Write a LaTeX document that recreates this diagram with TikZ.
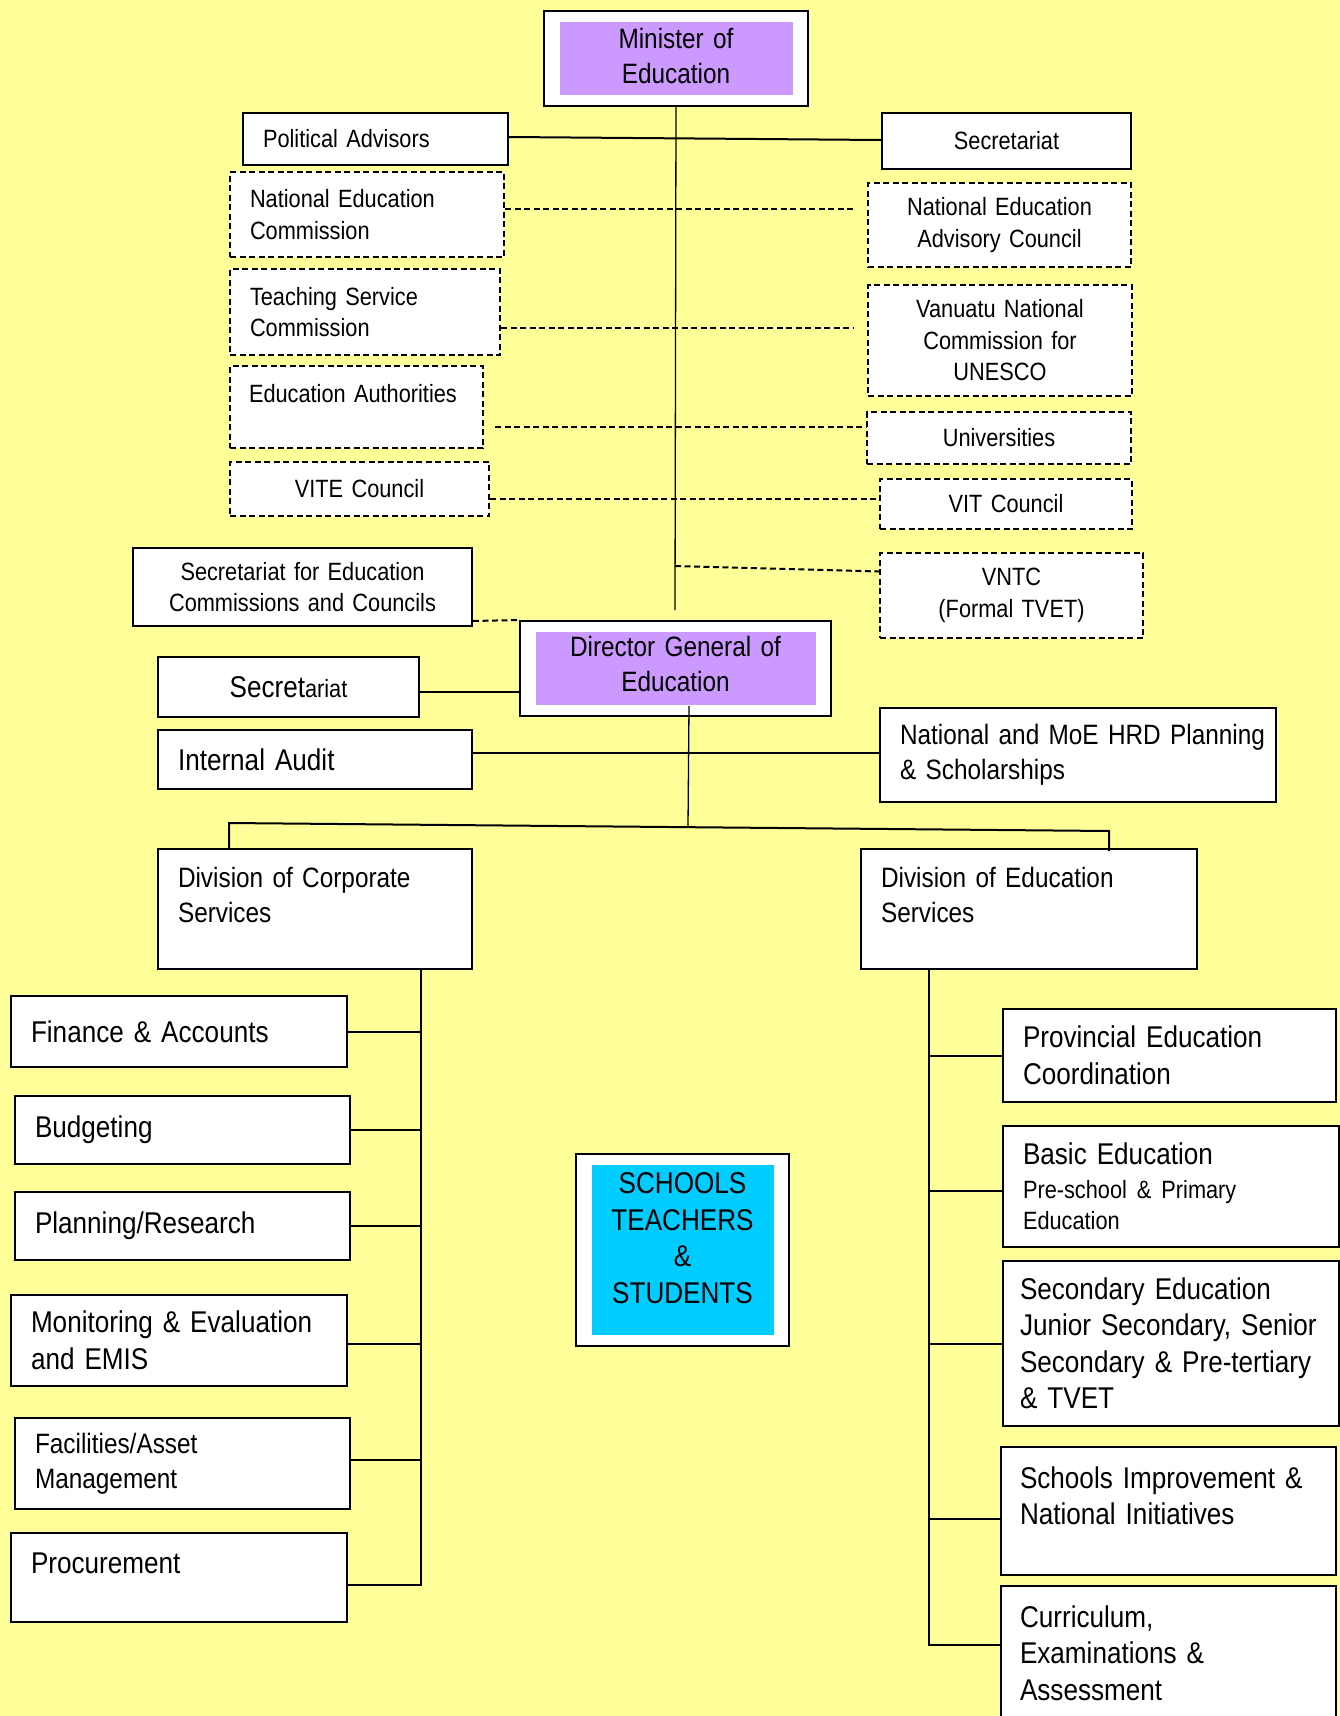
\documentclass[tikz,border=0pt]{standalone}
\usepackage{fontspec}
\setmainfont{Liberation Sans}[FakeStretch=0.87, WordSpace=0.8]
\definecolor{paper}{HTML}{FFFF99}
\definecolor{lilac}{HTML}{CC99FF}
\definecolor{sky}{HTML}{00CCFF}
\begin{document}
\begin{tikzpicture}[
    x=1pt, y=-1pt,
    unit/.style={rectangle, draw, line width=2pt, fill=white, anchor=north west, inner xsep=20pt, inner ysep=4pt, align=left},
    dunit/.style={unit, dash pattern=on 6pt off 3.5pt},
    lead/.style={unit, align=center, path picture={\fill[#1] ([xshift=16pt,yshift=-11pt]path picture bounding box.north west) rectangle ([xshift=-15pt,yshift=11pt]path picture bounding box.south east);}},
    f25/.style={font=\fontsize{25pt}{31.5pt}\selectfont},
    f28/.style={font=\fontsize{28pt}{35pt}\selectfont},
    f30/.style={font=\fontsize{30pt}{36.5pt}\selectfont},
    edge1/.style={line width=2pt},
    edge0/.style={line width=2pt, dash pattern=on 6pt off 3.5pt},
    spine/.style={line width=1.3pt}
]
\useasboundingbox (0,0) rectangle (1340,1716);
\clip (0,0) rectangle (1340,1716);
\fill[paper] (0,0) rectangle (1340,1716);

\node[lead=lilac, f28, minimum width=264pt, minimum height=95pt, text width=224pt, text depth=41pt] (minister) at (543,10) {Minister of\\Education};
\node[unit, f25, minimum width=265pt, minimum height=52pt, text width=225pt] (poladv) at (242,112) {Political Advisors};
\node[unit, f25, align=center, minimum width=249pt, minimum height=56pt, text width=209pt] (secr) at (881,112) {Secretariat};
\node[dunit, f25, minimum width=274pt, minimum height=85pt, text width=234pt] (nec) at (229,171) {National Education\\Commission};
\node[dunit, f25, align=center, minimum width=263pt, minimum height=84pt, text width=223pt] (neac) at (867,182) {National Education\\Advisory Council};
\node[dunit, f25, minimum width=270pt, minimum height=86pt, text width=230pt] (tsc) at (229,268) {Teaching Service\\Commission};
\node[dunit, f25, align=center, minimum width=264pt, minimum height=111pt, text width=224pt] (unesco) at (867,284) {Vanuatu National\\Commission for\\UNESCO};
\node[dunit, f25, minimum width=253pt, minimum height=82pt, text width=215pt, inner xsep=19pt, text height=32pt, text depth=42pt] (edauth) at (229,365) {Education Authorities};
\node[dunit, f25, align=center, minimum width=264pt, minimum height=52pt, text width=224pt] (univ) at (866,411) {Universities};
\node[dunit, f25, align=center, minimum width=259pt, minimum height=54pt, text width=219pt] (vite) at (229,461) {VITE Council};
\node[dunit, f25, align=center, minimum width=252pt, minimum height=50pt, text width=212pt] (vit) at (879,478) {VIT Council};
\node[dunit, f25, align=center, minimum width=263pt, minimum height=85pt, text width=223pt] (vntc) at (879,552) {VNTC\\(Formal TVET)};
\node[unit, f25, align=center, minimum width=339pt, minimum height=78pt, text width=299pt] (secc) at (132,547) {Secretariat for Education\\Commissions and Councils};

\node[lead=lilac, f28, minimum width=311pt, minimum height=95pt, text width=271pt, text depth=45pt] (dg) at (519,620) {Director General of\\Education};
\node[unit, align=center, minimum width=261pt, minimum height=60pt, text width=221pt] (dgsecr) at (157,656) {{\fontsize{30pt}{36pt}\selectfont Secret}{\fontsize{25pt}{31pt}\selectfont ariat}};
\node[unit, f30, minimum width=314pt, minimum height=59pt, text width=274pt] (audit) at (157,729) {Internal Audit};
\node[unit, f28, minimum width=396pt, minimum height=94pt, text width=356pt] (hrd) at (879,707) {\mbox{National and MoE HRD Planning}\\\& Scholarships};

\node[unit, f28, minimum width=314pt, minimum height=120pt, text width=274pt, text height=34pt, text depth=78pt] (corp) at (157,848) {Division of Corporate\\Services};
\node[unit, f28, minimum width=336pt, minimum height=120pt, text width=296pt, text height=34pt, text depth=78pt] (edu) at (860,848) {Division of Education\\Services};

\node[unit, f30, minimum width=336pt, minimum height=71pt, text width=296pt] (finance) at (10,995) {Finance \& Accounts};
\node[unit, f30, minimum width=335pt, minimum height=68pt, text width=295pt] (budget) at (14,1095) {Budgeting};
\node[unit, f30, minimum width=335pt, minimum height=68pt, text width=295pt] (plan) at (14,1191) {Planning/Research};
\node[unit, f30, minimum width=336pt, minimum height=91pt, text width=296pt] (monitor) at (10,1294) {Monitoring \& Evaluation\\and EMIS};
\node[unit, f28, minimum width=335pt, minimum height=91pt, text width=295pt] (facil) at (14,1417) {Facilities/Asset\\Management};
\node[unit, f30, minimum width=336pt, minimum height=89pt, text width=296pt, text height=36pt, text depth=45pt] (procure) at (10,1532) {Procurement};

\node[lead=sky, f30, minimum width=213pt, minimum height=192pt, text width=173pt, text depth=133pt] (schools) at (575,1153) {SCHOOLS\\TEACHERS\\\&\\STUDENTS};

\node[unit, f30, minimum width=333pt, minimum height=93pt, text width=293pt] (prov) at (1002,1008) {Provincial Education\\Coordination};
\node[unit, f30, minimum width=336pt, minimum height=121pt, text width=296pt] (basic) at (1002,1125) {Basic Education\\[3pt]{\fontsize{25pt}{31pt}\selectfont Pre-school \& Primary\\Education\par}};
\node[unit, f30, minimum width=336pt, minimum height=165pt, text width=302pt, inner xsep=17pt] (second) at (1002,1260) {Secondary Education\\Junior Secondary, Senior\\Secondary \& Pre-tertiary\\\& TVET};
\node[unit, f30, minimum width=335pt, minimum height=128pt, text width=297pt, inner xsep=19pt, text height=37pt, text depth=83pt] (improve) at (1000,1446) {Schools Improvement \&\\National Initiatives};
\node[unit, f30, minimum width=335pt, minimum height=160pt, text width=297pt, inner xsep=19pt, text height=37pt, text depth=115pt] (curric) at (1000,1585) {Curriculum,\\Examinations \&\\Assessment};

\coordinate (minfoot) at (675,610);
\coordinate (vntcjoin) at (675,566);
\coordinate (forkl) at (229,823);
\coordinate (forkm) at (688,827);
\coordinate (forkr) at (1109,831);
\coordinate (lspine) at (421,968);
\coordinate (rspine) at (929,968);

\draw[spine] (minister.south) -- (minfoot);
\draw[edge1] ([yshift=2pt]poladv.east) -- ([yshift=1pt]secr.west);
\draw[edge0, shorten >=13pt] ([yshift=6pt]nec.east) -- ([yshift=6pt]nec.east -| neac.west);
\draw[edge0, shorten >=13pt] ([yshift=-16pt]tsc.east) -- ([yshift=-16pt]tsc.east -| unesco.west);
\draw[edge0, shorten <=11pt] ([yshift=-20pt]edauth.east) -- ([yshift=-20pt]edauth.east -| univ.west);
\draw[edge0] ([yshift=-10pt]vite.east) -- ([yshift=-10pt]vite.east -| vit.west);
\draw[edge0] (vntcjoin) -- ([yshift=24pt]vntc.west);
\draw[edge0] ([yshift=6pt]secc.south east) -- (dg.north west);

\draw[edge1] ([yshift=-5pt]dgsecr.east) -- ([yshift=-5pt]dgsecr.east -| dg.west);
\draw[edge1] ([yshift=7pt]audit.east) -- ([yshift=7pt]audit.east -| hrd.west);
\draw[spine] ([xshift=13.5pt,yshift=11pt]dg.south) -- (forkm);
\draw[edge1] (corp.north -| forkl) -- (forkl) -- (forkr) -- ([yshift=-3pt]forkr |- edu.north);

\draw[edge1] (lspine) -- ([yshift=-7pt]procure.east -| lspine) -- ([yshift=-7pt]procure.east);
\draw[edge1] (finance.east) -- (finance.east -| lspine);
\draw[edge1] (budget.east) -- (budget.east -| lspine);
\draw[edge1] (plan.east) -- (plan.east -| lspine);
\draw[edge1] ([yshift=-3pt]monitor.east) -- ([yshift=-3pt]monitor.east -| lspine);
\draw[edge1] ([yshift=4pt]facil.east) -- ([yshift=4pt]facil.east -| lspine);

\draw[edge1] (rspine) -- ([yshift=21pt]curric.west -| rspine) -- ([yshift=21pt]curric.west);
\draw[edge1] (prov.west) -- (prov.west -| rspine);
\draw[edge1] ([yshift=-4pt]basic.west) -- ([yshift=-4pt]basic.west -| rspine);
\draw[edge1] (second.west) -- (second.west -| rspine);
\draw[edge1] ([yshift=-8pt]improve.west) -- ([yshift=-8pt]improve.west -| rspine);
\end{tikzpicture}
\end{document}
